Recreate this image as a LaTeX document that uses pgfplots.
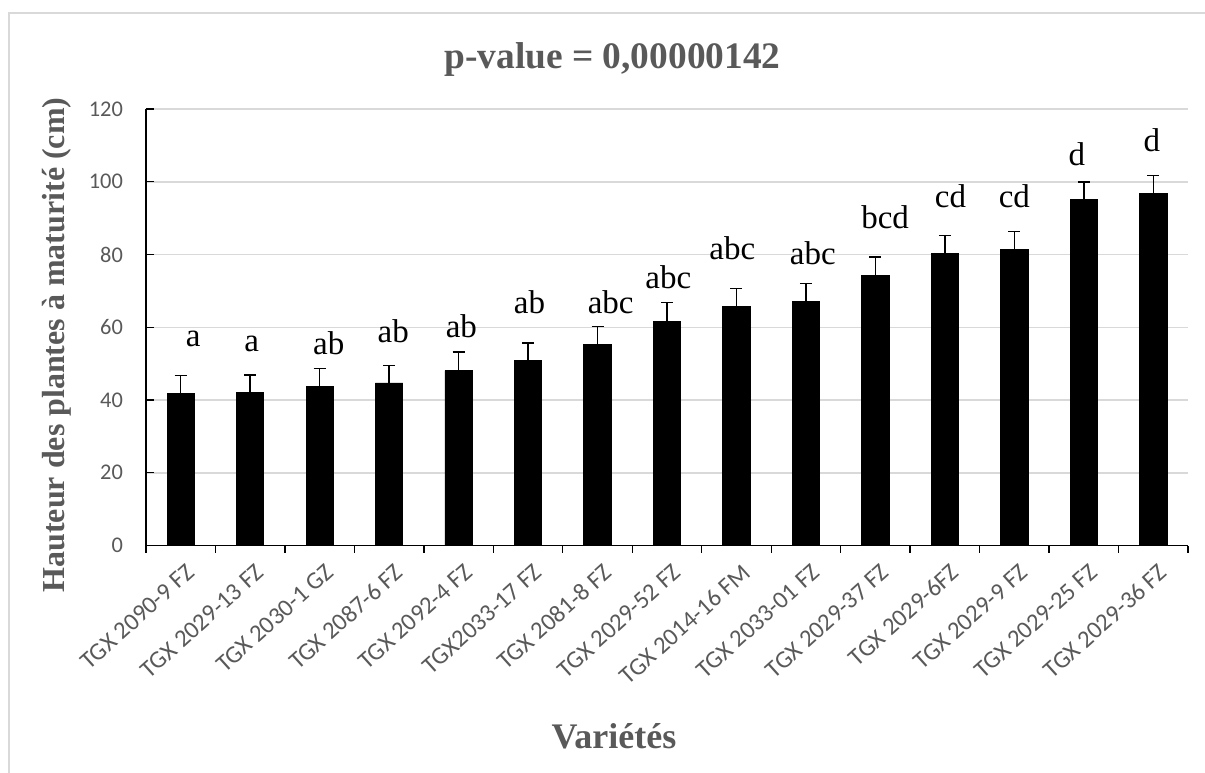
\documentclass[border=0pt]{standalone}
\usepackage{pgfplots}
\pgfplotsset{compat=1.18}
\usepackage{fontspec}
\setmainfont{Liberation Serif}
\newfontfamily\carlito{Carlito}
\definecolor{txtgray}{HTML}{595959}
\definecolor{gridgray}{HTML}{D9D9D9}
\begin{document}
\begin{tikzpicture}
\path[use as bounding box] (-73pt,-113.25pt) rectangle (529.5pt,272.75pt);
\clip (-73pt,-113.25pt) rectangle (529.5pt,272.75pt);
\draw[gridgray, line width=0.75pt] (-68.5pt,-140pt) rectangle (600pt,266.25pt);
\begin{axis}[
  at={(0pt,0pt)}, anchor=south west, scale only axis,
  width=521pt, height=218.25pt,
  xmin=-0.5, xmax=14.5, ymin=0, ymax=120,
  axis x line*=bottom, axis y line*=left,
  axis line style={black, line width=0.65pt},
  xtick={0,...,14},
  xticklabels={TGX 2090-9 FZ, TGX 2029-13 FZ, TGX 2030-1 GZ, TGX 2087-6 FZ, TGX 2092-4 FZ, TGX2033-17 FZ, TGX 2081-8 FZ, TGX 2029-52 FZ, TGX 2014-16 FM, TGX 2033-01 FZ, TGX 2029-37 FZ, TGX 2029-6FZ, TGX 2029-9 FZ, TGX 2029-25 FZ, TGX 2029-36 FZ},
  minor xtick={-0.5,0.5,...,14.5},
  ytick={0,20,...,120},
  xtick pos=lower, ytick pos=left,
  ymajorgrids, grid style={gridgray, line width=0.75pt},
  major x tick style={draw=none},
  minor x tick style={black, line width=0.65pt},
  y tick style={black, line width=0.65pt},
  minor tick length=3.5pt, major tick length=4pt,
  xtick align=outside, ytick align=inside,
  /pgf/number format/assume math mode=true,
  x tick label style={font=\carlito\fontsize{12.3}{14}\selectfont, text=txtgray, rotate=42, anchor=east, xshift=2pt, yshift=-9pt},
  y tick label style={font=\carlito\fontsize{11.2}{13}\selectfont, text=txtgray, xshift=-8pt},
]
\addplot[ybar, bar width=13.65pt, fill=black, draw=black,
  error bars/.cd, y dir=plus, y explicit,
  error bar style={black, line width=0.75pt},
  error mark options={rotate=90, mark size=3pt, black, line width=0.75pt}]
  table[x=x, y=y, y error=e] {
x y e
0 41.7 5.0
1 42.0 4.9
2 43.7 5.0
3 44.7 4.8
4 48.1 5.1
5 50.8 4.9
6 55.3 4.9
7 61.7 5.1
8 65.8 4.9
9 67.1 4.9
10 74.2 5.1
11 80.4 4.8
12 81.3 5.0
13 95.1 4.9
14 96.7 5.0
};
\addplot[only marks, mark=none, nodes near coords, point meta=explicit symbolic,
  every node near coord/.append style={anchor=base, inner sep=0pt, font=\fontsize{16.5}{16.5}\selectfont, text=black}]
  table[x=x, y=y, meta=lab] {
x y lab
0.18 54.6 a
1.02 53.2 a
2.13 52.4 ab
3.06 55.9 ab
4.04 57.2 ab
5.02 63.9 ab
6.19 63.9 abc
7.02 70.7 abc
7.94 78.6 abc
9.10 77.2 abc
10.14 87.2 bcd
11.08 93.0 cd
12.00 93.0 cd
12.90 104.6 d
13.98 108.3 d
};
\end{axis}
\node[anchor=base, text=txtgray, font=\bfseries\fontsize{18.7}{18.7}\selectfont] at (233.25pt,238.6pt) {p-value = 0,00000142};
\node[anchor=base, rotate=90, text=txtgray, font=\bfseries\fontsize{16}{16}\selectfont] at (-40.5pt,100.25pt) {Hauteur des plantes à maturité (cm)};
\node[anchor=base, text=txtgray, font=\bfseries\fontsize{18}{18}\selectfont] at (234pt,-101.25pt) {Variétés};
\end{tikzpicture}
\end{document}
